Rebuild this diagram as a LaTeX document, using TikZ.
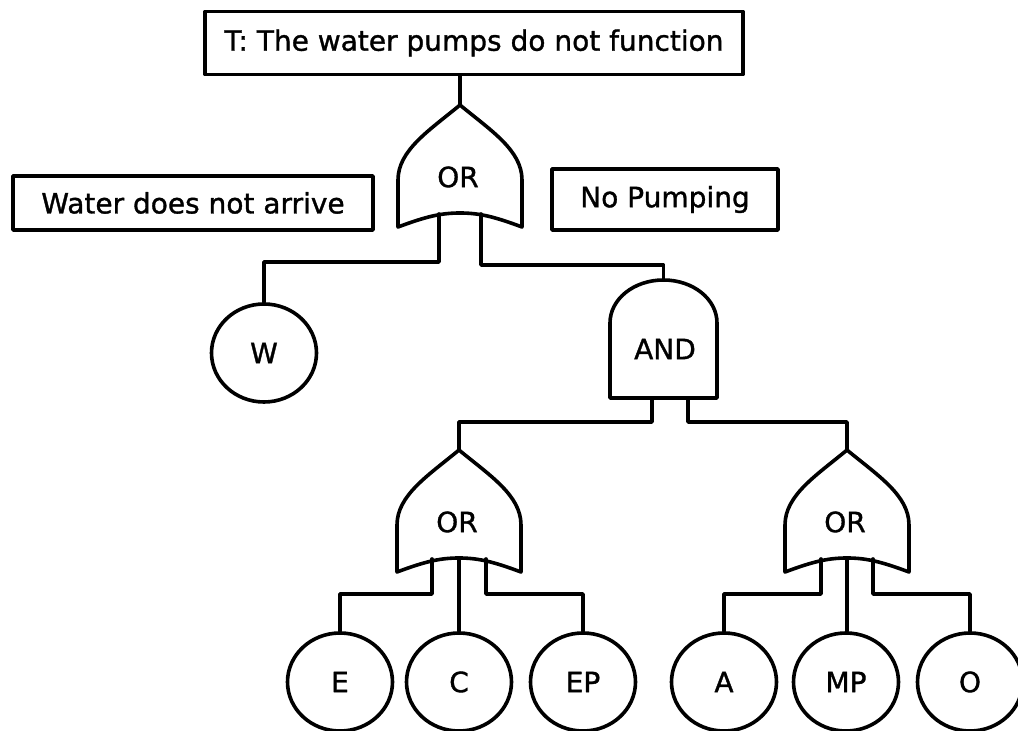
\documentclass[tikz,border=0pt]{standalone}
\usepackage{fontspec}
\setmainfont[FakeBold=1.2]{DejaVu Sans}
\usetikzlibrary{shapes.geometric}

\tikzset{
  wire/.style={line width=1.8pt},
  evbox/.style={draw, rectangle, line width=1.8pt, inner sep=0pt},
  basic/.style={draw, ellipse, line width=1.8pt, inner sep=0pt, minimum width=52.5pt, minimum height=49pt},
  gatelbl/.style={inner sep=0pt},
  orgate/.pic={
    \draw[wire] (0,0) .. controls (-30,25) and (-62,45) .. (-62,75) -- (-62,122)
      .. controls (-35,112) and (-20,108) .. (0,108)
      .. controls (20,108) and (35,112) .. (62,122) -- (62,75)
      .. controls (62,45) and (30,25) .. (0,0) -- cycle;
    \coordinate (-tip) at (0,0);
    \coordinate (-l) at (-#1,109);
    \coordinate (-m) at (0,108);
    \coordinate (-r) at (#1,109);
    \node[gatelbl] (-lbl) at (-2,72) {OR};
  }
}

\begin{document}
\begin{tikzpicture}[x=0.5pt, y=-0.5pt, line cap=round, line join=round, font=\fontsize{14pt}{17pt}\selectfont]
  \useasboundingbox (0,0) rectangle (1018,731);

  % event boxes
  \node[evbox, minimum width=269pt, minimum height=31.5pt] (top) at (474,43) {T: The water pumps do not function};
  \node[evbox, minimum width=180pt, minimum height=27pt] (water) at (193,203) {Water does not arrive};
  \node[evbox, minimum width=113pt, minimum height=30.5pt] (nopump) at (665,199.5) {No Pumping};

  % gates
  \pic (g1) at (460,105) {orgate=21};
  \pic (g2) at (459,450) {orgate=27};
  \pic (g3) at (847,450) {orgate=26};

  \draw[wire] (610,398) -- (610,323) .. controls (610,299) and (634,280) .. (663.5,280)
    .. controls (693,280) and (717,299) .. (717,323) -- (717,398) -- cycle;
  \coordinate (andtop) at (663.5,280);
  \coordinate (andl) at (652,398);
  \coordinate (andr) at (688,398);
  \node[gatelbl] (andlbl) at (665,349) {AND};

  % basic events
  \node[basic] (W) at (264,353) {W};
  \foreach \nm/\px in {E/340, C/459, EP/583, A/724, MP/846, O/970}
    \node[basic] (\nm) at (\px,682) {\nm};

  % connectors
  \draw[wire] (g1-tip) -- (g1-tip |- top.south);
  \draw[wire] (g1-l) -- ++(0,48) -| (W);
  \draw[wire] (g1-r) -- ++(0,51) -| (andtop);
  \draw[wire] (andl) -- ++(0,24) -| (g2-tip);
  \draw[wire] (andr) -- ++(0,24) -| (g3-tip);
  \draw[wire] (g2-l) -- ++(0,35) -| (E);
  \draw[wire] (g2-m) -- (C);
  \draw[wire] (g2-r) -- ++(0,35) -| (EP);
  \draw[wire] (g3-l) -- ++(0,35) -| (A);
  \draw[wire] (g3-m) -- (g3-m |- MP.north);
  \draw[wire] (g3-r) -- ++(0,35) -| (O);
\end{tikzpicture}
\end{document}
